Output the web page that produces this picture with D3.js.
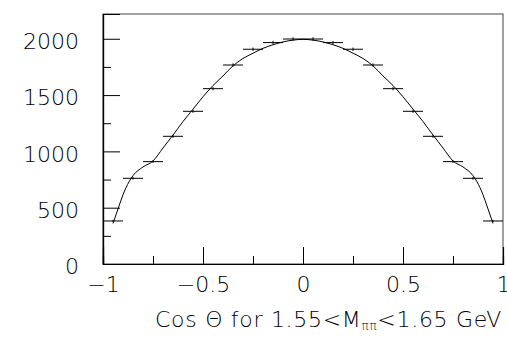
<!DOCTYPE html>
<html>
<head>
<meta charset="utf-8">
<script src="https://cdn.jsdelivr.net/npm/d3@7"></script>
<style>
  body { margin: 0; background: #fff; }
  svg { display: block; }
  text { font-family: "DejaVu Sans", sans-serif; font-weight: 200; fill: #000; }
</style>
</head>
<body>
<div id="chart"></div>
<script>
// histogram bins: 20 bins of width 0.1 on cos theta
var binLow = [-1.0, -0.9, -0.8, -0.7, -0.6, -0.5, -0.4, -0.3, -0.2, -0.1,
              0.0, 0.1, 0.2, 0.3, 0.4, 0.5, 0.6, 0.7, 0.8, 0.9];
var binCounts = [382, 761, 909, 1134, 1356, 1557, 1767, 1907, 1966, 1998,
                 1998, 1966, 1907, 1767, 1557, 1356, 1134, 909, 761, 382];
var binErrors = [10, 12, 12, 13, 14, 14, 15, 15, 15, 15,
                 15, 15, 15, 15, 14, 14, 13, 12, 12, 10];

// fitted curve
var fitX = [-0.95, -0.92, -0.9, -0.87, -0.85, -0.8, -0.75, -0.7, -0.65, -0.6, -0.55, -0.5,
            -0.45, -0.4, -0.35, -0.3, -0.25, -0.2, -0.15, -0.1, -0.05, 0,
            0.05, 0.1, 0.15, 0.2, 0.25, 0.3, 0.35, 0.4, 0.45, 0.5,
            0.55, 0.6, 0.65, 0.7, 0.75, 0.8, 0.85, 0.87, 0.9, 0.92, 0.95];
var fitY = [360, 515, 615, 730, 785, 862, 915, 1030, 1145, 1265, 1375, 1485,
            1585, 1670, 1760, 1825, 1872, 1915, 1947, 1972, 1988, 1995,
            1988, 1972, 1947, 1915, 1872, 1825, 1760, 1670, 1585, 1485,
            1375, 1265, 1145, 1030, 915, 862, 785, 730, 615, 515, 360];

var yMajor = [0, 500, 1000, 1500, 2000];
var yMinor = [250, 750, 1250, 1750];
var xMajor = [-1, -0.5, 0, 0.5, 1];
var xMinor = [-0.75, -0.25, 0.25, 0.75];

var W = 507, H = 342;
var svg = d3.select('#chart').append('svg').attr('width', W).attr('height', H);
svg.append('rect').attr('width', W).attr('height', H).attr('fill', '#fff');

var x = d3.scaleLinear().domain([-1, 1]).range([103, 503]);
var y = d3.scaleLinear().domain([0, 2220]).range([264, 14]);

// frame
svg.append('rect')
    .attr('x', x(-1)).attr('y', y(2220))
    .attr('width', x(1) - x(-1)).attr('height', y(0) - y(2220))
    .attr('fill', 'none').attr('stroke', '#444').attr('stroke-width', 1);

// histogram: horizontal bar per bin plus small error bar
var bins = svg.append('g').attr('stroke', '#000').attr('stroke-width', 1);
binLow.forEach(function (lo, i) {
    var v = binCounts[i];
    bins.append('line')
        .attr('x1', x(lo)).attr('x2', x(lo + 0.1))
        .attr('y1', y(v)).attr('y2', y(v));
    bins.append('line')
        .attr('x1', x(lo + 0.05)).attr('x2', x(lo + 0.05))
        .attr('y1', y(v - binErrors[i])).attr('y2', y(v + binErrors[i]));
});

// fit curve
svg.append('path')
    .datum(fitX.map(function (d, i) { return [d, fitY[i]]; }))
    .attr('fill', 'none').attr('stroke', '#000').attr('stroke-width', 1)
    .attr('d', d3.line()
        .x(function (d) { return x(d[0]); })
        .y(function (d) { return y(d[1]); })
        .curve(d3.curveMonotoneX));

// axes
var yAxis = svg.append('g').attr('transform', 'translate(' + x(-1) + ',0)')
    .call(d3.axisLeft(y).tickValues(yMajor).tickSize(-17).tickPadding(24)
        .tickFormat(d3.format('d')));
svg.append('g').attr('transform', 'translate(' + x(-1) + ',0)')
    .call(d3.axisLeft(y).tickValues(yMinor).tickSize(-8).tickFormat(''));

var xAxis = svg.append('g').attr('transform', 'translate(0,' + y(0) + ')')
    .call(d3.axisBottom(x).tickValues(xMajor).tickSize(-17).tickPadding(12)
        .tickFormat(function (d) { return d3.format('')(d).replace('-', '\u2212'); }));
svg.append('g').attr('transform', 'translate(0,' + y(0) + ')')
    .call(d3.axisBottom(x).tickValues(xMinor).tickSize(-8).tickFormat(''));

svg.selectAll('.domain').attr('stroke', '#000').attr('stroke-width', 1.2);
svg.selectAll('.tick line').attr('stroke', '#000');
svg.selectAll('.tick text')
    .style('font-family', '"DejaVu Sans", sans-serif')
    .style('font-weight', 200)
    .style('font-size', '22px');
yAxis.selectAll('.tick text').attr('dy', '0.44em');

// axis title
var title = svg.append('text')
    .attr('x', 502).attr('y', 327)
    .attr('text-anchor', 'end')
    .style('font-size', '22px')
    .style('letter-spacing', '0.7px');
title.append('tspan').text('Cos \u0398 for 1.55<M');
title.append('tspan').text('\u03c0\u03c0').style('font-size', '12px').attr('dy', 3);
title.append('tspan').text('<1.65 GeV').attr('dy', -3);
</script>
</body>
</html>
